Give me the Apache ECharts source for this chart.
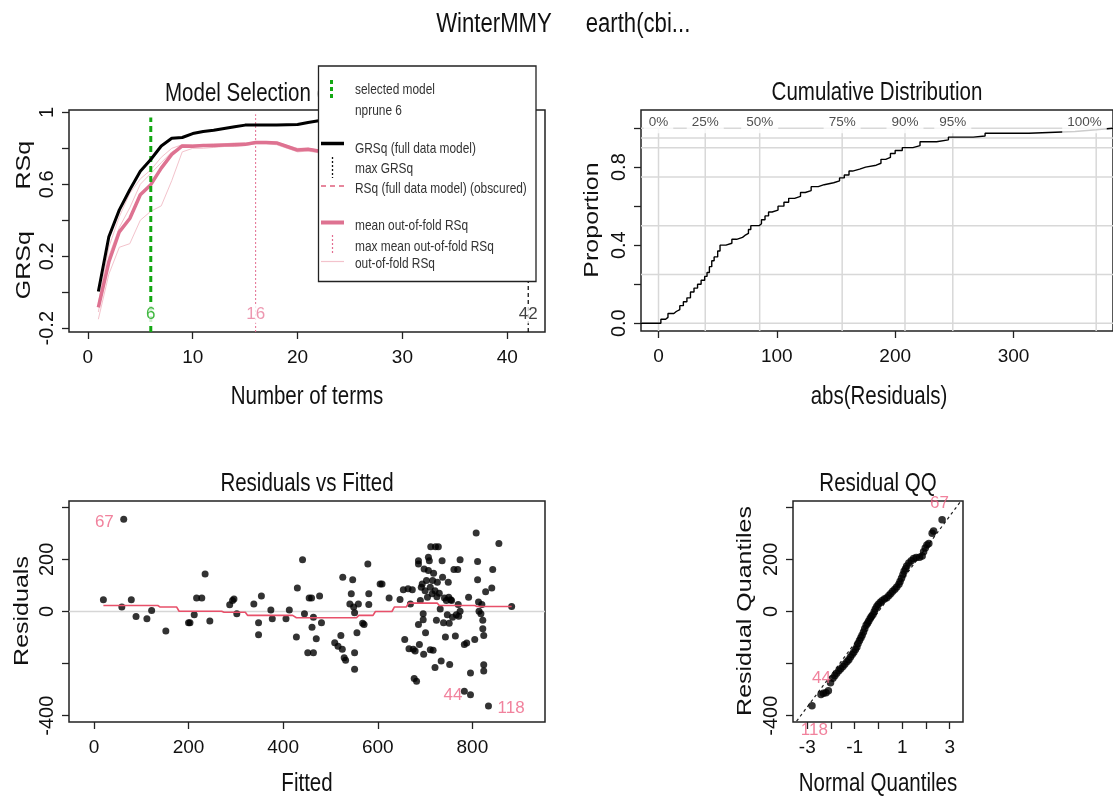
<!DOCTYPE html>
<html>
<head>
<meta charset="utf-8">
<script src="https://cdn.jsdelivr.net/npm/echarts@6/dist/echarts.min.js"></script>
<style>html,body{margin:0;padding:0;background:#fff}#main{width:1113px;height:803px}</style>
</head>
<body>
<div id="main"></div>
<script>
// model selection panel
var nTerms = [1,2,3,4,5,6,7,8,9,10,11,12,13,14,15,16,17,18,19,20,21,22,23,24,25,26,27,28,29,30,31,32,33,34,35,36,37,38,39,40,41,42];
var grsq = [0.004,0.308,0.458,0.57,0.673,0.738,0.813,0.856,0.86,0.882,0.893,0.90,0.91,0.92,0.929,0.929,0.93,0.93,0.931,0.932,0.944,0.953,
            0.955,0.956,0.957,0.958,0.96,0.96,0.961,0.962,0.963,0.964,0.965,0.966,0.967,0.968,0.969,0.97,0.971,0.972,0.973,0.975];
var meanOof = [-0.084,0.168,0.336,0.41,0.542,0.598,0.69,0.766,0.813,0.812,0.815,0.815,0.818,0.82,0.822,0.832,0.832,0.83,0.81,0.79,0.795,0.785,
               0.78,0.778,0.775,0.772,0.77,0.768,0.765,0.763,0.76,0.758,0.756,0.754,0.752,0.75,0.748,0.746,0.744,0.742,0.74,0.738];
var foldA = [-0.06,0.25,0.42,0.55,0.63,0.68,0.75,0.80,0.82,0.82,0.82,0.825,0.825,0.83,0.83,0.835,0.835,0.83,0.815,0.80,0.80,0.79,
             0.785,0.78,0.78,0.775,0.775,0.77,0.77,0.765,0.765,0.76,0.76,0.755,0.755,0.75,0.75,0.745,0.745,0.74,0.74,0.735];
var foldB = [-0.15,0.10,0.25,0.27,0.40,0.45,0.48,0.62,0.78,0.80,0.80,0.805,0.81,0.81,0.815,0.825,0.825,0.82,0.80,0.78,0.785,0.775,
             0.77,0.765,0.765,0.76,0.76,0.755,0.755,0.75,0.75,0.745,0.745,0.74,0.74,0.735,0.735,0.73,0.73,0.725,0.725,0.72];
var foldC = [-0.11,0.20,0.36,0.47,0.60,0.66,0.72,0.78,0.81,0.815,0.82,0.82,0.82,0.825,0.825,0.835,0.835,0.835,0.815,0.79,0.80,0.79,
             0.785,0.78,0.775,0.775,0.77,0.77,0.765,0.765,0.76,0.76,0.755,0.755,0.75,0.75,0.745,0.745,0.74,0.74,0.735,0.735];
var selTerms = 6, maxOofTerms = 16, maxGrsqTerms = 42;

// cumulative distribution of abs(residuals)
var ecdfX = [-15,0,2,6,8,13,15,18,21,24,27,30,33,36,39,41,43,45,47,50,52,57,62,66,71,73,76,78,85,87,90,93,96,101,106,110,115,120,124,129,
             135,140,148,153,157,161,164,170,175,184,188,192,196,200,206,215,221,235,245,266,276,313,352,370,385];
var ecdfY = [0,0,0.02,0.03,0.05,0.06,0.07,0.09,0.11,0.13,0.16,0.18,0.20,0.22,0.24,0.26,0.29,0.32,0.34,0.37,0.40,0.41,0.43,0.44,0.45,0.46,0.48,0.50,0.51,0.53,
             0.55,0.57,0.58,0.60,0.62,0.64,0.65,0.67,0.68,0.70,0.71,0.72,0.73,0.745,0.76,0.78,0.79,0.80,0.81,0.82,0.84,0.85,0.87,0.885,0.90,0.91,0.93,0.94,0.954,0.96,0.974,0.983,0.992,1.0,1.0];
var quantVals = [0,39.5,85.5,155.2,208.3,248.7,369.9];
var quantProps = [0,0.25,0.5,0.75,0.9,0.95,1];
var quantLabels = ['0%','25%','50%','75%','90%','95%','100%'];
var quantLabelX = [0,39.5,85.5,155.2,208.3,248.7,360];

// residuals vs fitted
var fitted = [20,59,63,79,89,112,122,152,200,203,212,217,228,235,245,287,293,296,302,338,348,348,354,374,377,406,413,428,430,441,
              445,455,460,452,464,461,464,470,477,481,509,516,522,525,529,532,526,541,544,547,549,551,551,551,556,559,568,571,579,581,
              581,605,609,624,647,654,657,664,666,669,673,675,677,682,679,686,686,686,688,690,692,694,696,696,697,698,700,701,703,705,
              707,707,709,711,711,712,715,716,717,718,721,721,722,724,725,726,728,730,732,734,736,737,739,741,743,745,747,749,750,751,
              752,754,756,758,761,764,766,769,770,771,774,774,783,783,788,792,796,796,805,808,811,811,813,814,818,820,822,822,824,824,
              824,828,834,841,843,856,883];
var resid = [45,17,354,45,-19,-28,4,-75,-43,-43,-12,52,52,144,-36,26,42,48,-9,29,-43,-89,59,6,-28,-28,6,-98,90,199,
             -9,52,52,-158,-158,-60,-22,-105,59,-43,-120,-133,-92,-145,-177,-187,131,29,68,122,17,-5,-158,-222,-82,29,-45,-50,182,68,
             27,106,106,52,46,83,-107,87,-143,29,83,-145,-257,-268,-152,195,182,-50,-127,42,93,106,-9,-32,-164,163,80,-82,119,55,
             208,157,195,93,-147,248,68,119,-149,147,80,-215,248,-34,57,112,248,70,10,-190,195,131,-43,52,-98,42,-12,112,55,-45,
             -203,45,42,-22,161,-94,-12,161,27,-18,199,1,-127,-306,-121,55,-236,-319,-107,301,192,122,36,1,-9,27,-34,-66,-92,-204,
             -228,76,-363,90,161,261,19];
var smoothX = [20,135,140,175,180,270,275,320,325,420,428,555,560,590,595,630,635,660,665,726,730,805,810,883];
var smoothY = [23,23,17,17,1,1,-3,-3,-15,-15,-24,-24,-15,-15,0,0,17,17,32,32,23,23,19,19];
var residIdX = [22,759,882], residIdY = [344,-321,-372], residIdText = ['67','44','118'];

// residual QQ
var qqX = [-2.80,-2.42,-2.32,-2.21,-2.11,-2.02,-1.92,-1.84,-1.76,-1.67,-1.59,-1.50,-1.42,-1.33,-1.25,-1.18,-1.11,-1.04,-0.97,-0.91,
           -0.86,-0.80,-0.74,-0.69,-0.63,-0.58,-0.52,-0.46,-0.41,-0.35,-0.30,-0.24,-0.18,-0.13,-0.07,-0.01,0.07,0.15,0.25,0.35,
           0.44,0.52,0.60,0.69,0.77,0.86,0.91,0.97,1.03,1.08,1.14,1.19,1.28,1.38,1.48,1.59,1.73,1.84,1.90,1.97,2.04,2.12,2.26,2.32,2.68];
var qqY = [-362,-318,-314,-312,-304,-273,-256,-247,-237,-227,-220,-211,-202,-193,-185,-175,-165,-156,-146,-136,
           -123,-111,-101,-91,-79,-66,-53,-45,-36,-27,-19,-12,-1,10,19,27,35,41,48,53,
           61,69,78,85,94,105,115,128,141,154,164,175,186,195,203,207,208,213,229,244,255,261,300,309,352];
var qqLineX = [-3.45,3.45], qqLineY = [-421,421];
var qqIdX = [2.57,-2.40,-2.70], qqIdY = [416,-256,-456], qqIdText = ['67','44','118'];

var FONT = "'Liberation Sans', Arial, sans-serif";
var SQ = 0.82;   // the reference text is horizontally squeezed
var PINK = '#de7291', IDPINK = '#ee6384';

var P1 = {xmin:-1.8, xmax:43.6, ymin:-0.221, ymax:1.013};
var P2 = {xmin:-14.8, xmax:384.1, ymin:-0.04, ymax:1.093};
var P3 = {xmin:-52.7, xmax:953.5, ymin:-424, ymax:424};
var P4 = {xmin:-3.6, xmax:3.56, ymin:-424, ymax:424};

function zip(a, b) { return a.map(function (v, i) { return [v, b[i]]; }); }

var tickStyle = {show: true, inside: false, length: 7, lineStyle: {color: '#222', width: 1.3}};
function xAx(gi, p, ticks, labels) {
  return {type: 'value', gridIndex: gi, min: p.xmin, max: p.xmax,
    axisLine: {show: false, onZero: false}, splitLine: {show: false},
    axisTick: Object.assign({customValues: ticks}, tickStyle),
    axisLabel: {customValues: labels, margin: 16, fontFamily: FONT, fontSize: 19, color: '#111'}};
}
function yAx(gi, p, ticks, labels, fmt) {
  return {type: 'value', gridIndex: gi, min: p.ymin, max: p.ymax,
    axisLine: {show: false, onZero: false}, splitLine: {show: false},
    axisTick: Object.assign({customValues: ticks}, tickStyle),
    axisLabel: {customValues: labels, rotate: 90, margin: 12, fontFamily: FONT, fontSize: 20, color: '#111', formatter: fmt}};
}
function line(xi, data, color, width, type, z) {
  return {type: 'line', xAxisIndex: xi, yAxisIndex: xi, data: data, symbol: 'none', silent: true, z: z || 2,
    lineStyle: {color: color, width: width, type: type || 'solid'}, animation: false};
}
function idLabels(xi, xs, ys, texts, color, size, bg) {
  return {type: 'scatter', xAxisIndex: xi, yAxisIndex: xi, symbolSize: 1, silent: true, clip: false, z: 6,
    itemStyle: {color: 'rgba(0,0,0,0)'}, animation: false,
    data: xs.map(function (x, i) {
      return {value: [x, ys[i]], label: {show: true, position: 'inside', formatter: texts[i],
        color: Array.isArray(color) ? color[i] : color, fontFamily: FONT, fontSize: size,
        backgroundColor: bg ? '#fff' : 'transparent', padding: bg ? [1, 1] : 0}};
    })};
}

var series = [];
// panel 1
[foldA, foldB, foldC].forEach(function (f) { series.push(line(0, zip(nTerms, f), '#f3c3cc', 1)); });
series.push(line(0, zip(nTerms, meanOof), PINK, 3.5, 'solid', 3));
series.push(line(0, zip(nTerms, grsq), '#000', 3, 'solid', 4));
series.push(line(0, [[selTerms, P1.ymin], [selTerms, 0.972]], '#13a813', 3, [6, 4], 3));
series.push(line(0, [[maxOofTerms, P1.ymin], [maxOofTerms, 0.99]], '#e36d90', 1, [2, 2], 3));
series.push(line(0, [[maxGrsqTerms, P1.ymin], [maxGrsqTerms, 0.975]], '#000', 1.2, [4, 3], 3));
series.push(idLabels(0, [selTerms, maxOofTerms, maxGrsqTerms], [-0.12, -0.12, -0.12],
  ['6', '16', '42'], ['#13a813', '#e87d9c', '#111'], 17, true));
// panel 2
quantVals.forEach(function (v) { series.push(line(1, [[v, P2.ymin], [v, 1.0]], '#d8d8d8', 1.5, 'solid', 1)); });
quantProps.forEach(function (p) { series.push(line(1, [[P2.xmin, p], [P2.xmax, p]], '#d8d8d8', 1.5, 'solid', 1)); });
var ecdf = line(1, zip(ecdfX, ecdfY), '#000', 1.4, 'solid', 3);
ecdf.step = 'end';
series.push(ecdf);
series.push({type: 'scatter', xAxisIndex: 1, yAxisIndex: 1, symbolSize: 1, silent: true, clip: false, z: 6,
  itemStyle: {color: 'rgba(0,0,0,0)'}, animation: false,
  data: quantLabelX.map(function (x, i) {
    return {value: [x, 1.03], label: {show: true, position: 'inside', formatter: quantLabels[i], color: '#222',
      fontFamily: FONT, fontSize: 13.5, backgroundColor: '#fff', padding: [7, 5, 1, 5]}};
  })});
// panel 3
series.push(line(2, [[P3.xmin, 0], [P3.xmax, 0]], '#d6d6d6', 1.5, 'solid', 1));
series.push({type: 'scatter', xAxisIndex: 2, yAxisIndex: 2, data: zip(fitted, resid), symbolSize: 7,
  itemStyle: {color: '#000'}, silent: true, z: 3, animation: false});
series.push(line(2, zip(smoothX, smoothY), '#e8506a', 1.6, 'solid', 4));
series.push(idLabels(2, residIdX, residIdY, residIdText, IDPINK, 17, false));
// panel 4
series.push(line(3, zip(qqLineX, qqLineY), '#222', 1.2, [3, 3], 2));
series.push({type: 'scatter', xAxisIndex: 3, yAxisIndex: 3, data: zip(qqX, qqY), symbolSize: 7.5,
  itemStyle: {color: '#000'}, silent: true, z: 3, animation: false});
series.push(idLabels(3, qqIdX, qqIdY, qqIdText, IDPINK, 17, false));

var R90 = Math.PI / 2;
function txt(x, y, s, size, opts) {
  opts = opts || {};
  var rot = opts.rot || 0;
  return {type: 'text', x: x, y: y, rotation: rot, z: opts.z || 10, silent: true,
    scaleX: rot ? 1 : SQ, scaleY: rot ? SQ : 1,
    style: {text: s, fill: opts.color || '#111', fontSize: size, fontFamily: FONT,
      textAlign: opts.align || 'center', textVerticalAlign: 'middle'}};
}
function seg(x1, y1, x2, y2, color, w, dash) {
  return {type: 'line', z: 101, silent: true, shape: {x1: x1, y1: y1, x2: x2, y2: y2},
    style: {stroke: color, lineWidth: w, lineDash: dash || null}};
}
var graphics = [
  txt(494, 25, 'WinterMMY', 27), txt(638, 25, 'earth(cbi...', 27),
  txt(165, 94, 'Model Selection (cv)', 25, {align: 'left', z: 5}),
  txt(877, 93, 'Cumulative Distribution', 25),
  txt(307, 484, 'Residuals vs Fitted', 25),
  txt(878, 484, 'Residual QQ', 25),
  txt(307, 397, 'Number of terms', 25), txt(879, 397, 'abs(Residuals)', 25),
  txt(307, 784, 'Fitted', 25), txt(878, 784, 'Normal Quantiles', 25),
  txt(24, 220, 'GRSq      RSq', 25, {rot: R90}),
  txt(592, 220, 'Proportion', 25, {rot: R90}),
  txt(22, 611, 'Residuals', 25, {rot: R90}),
  txt(745, 611, 'Residual Quantiles', 25, {rot: R90}),
  // legend box of the model selection panel
  {type: 'rect', z: 100, silent: true, shape: {x: 318.5, y: 66, width: 217.5, height: 215.5},
    style: {fill: '#fff', stroke: '#222', lineWidth: 1.3}},
  seg(331.5, 80, 331.5, 99, '#13a813', 3, [4, 3]),
  seg(321, 143.5, 344, 143.5, '#000', 3.5),
  seg(332.5, 157, 332.5, 178, '#111', 1.3, [2, 2]),
  seg(321, 186, 344, 186, '#e0607e', 1.4, [5, 4]),
  seg(321, 222.5, 344, 222.5, PINK, 4),
  seg(332.5, 235, 332.5, 253, '#e36d90', 1.2, [2, 2]),
  seg(321, 261.5, 344, 261.5, '#f3c3cc', 1.2)
];
[['selected model', 90], ['nprune 6', 110.5], ['GRSq (full data model)', 149], ['max GRSq', 169],
 ['RSq (full data model) (obscured)', 188.5], ['mean out-of-fold RSq', 225.5],
 ['max mean out-of-fold RSq', 246.5], ['out-of-fold RSq', 264]].forEach(function (r) {
  graphics.push(txt(355, r[1], r[0], 14.5, {align: 'left', z: 102, color: '#333'}));
});

var chart = echarts.init(document.getElementById('main'), null, {renderer: 'canvas'});
chart.setOption({
  backgroundColor: '#fff',
  animation: false,
  grid: [
    {left: 69, top: 110, width: 476, height: 222, show: true, borderColor: '#222', borderWidth: 1.5},
    {left: 641, top: 110, width: 476, height: 221, show: true, borderColor: '#222', borderWidth: 1.5},
    {left: 69, top: 501, width: 476, height: 221, show: true, borderColor: '#222', borderWidth: 1.5},
    {left: 793, top: 501, width: 170, height: 221, show: true, borderColor: '#222', borderWidth: 1.5}
  ],
  xAxis: [
    xAx(0, P1, [0, 10, 20, 30, 40], [0, 10, 20, 30, 40]),
    xAx(1, P2, [0, 100, 200, 300], [0, 100, 200, 300]),
    xAx(2, P3, [0, 200, 400, 600, 800], [0, 200, 400, 600, 800]),
    xAx(3, P4, [-3, -2, -1, 0, 1, 2, 3], [-3, -1, 1, 3])
  ],
  yAxis: [
    yAx(0, P1, [-0.2, 0, 0.2, 0.4, 0.6, 0.8, 1], [-0.2, 0.2, 0.6, 1]),
    yAx(1, P2, [0, 0.2, 0.4, 0.6, 0.8, 1], [0, 0.4, 0.8], function (v) { return v.toFixed(1); }),
    yAx(2, P3, [-400, -200, 0, 200, 400], [-400, 0, 200]),
    yAx(3, P4, [-400, -200, 0, 200, 400], [-400, 0, 200])
  ],
  series: series,
  graphic: graphics
});
</script>
</body>
</html>
